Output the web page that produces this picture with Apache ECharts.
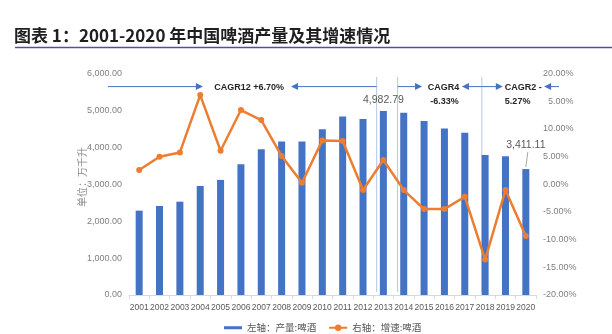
<!DOCTYPE html>
<html>
<head>
<meta charset="utf-8">
<script src="https://cdn.jsdelivr.net/npm/echarts@6/dist/echarts.min.js"></script>
<style>
  html, body { margin: 0; padding: 0; background: #fff; }
  #chart { width: 612px; height: 334px; }
</style>
</head>
<body>
<div id="chart"></div>
<script>
// 2001-2020 China beer output (万千升) and year-on-year growth (%)
const years = ['2001','2002','2003','2004','2005','2006','2007','2008','2009','2010',
               '2011','2012','2013','2014','2015','2016','2017','2018','2019','2020'];
const output = [2285, 2412, 2528, 2954, 3117, 3542, 3948, 4155, 4155, 4490,
                4832, 4770, 4982.79, 4940, 4715, 4507, 4398, 3794, 3759, 3411.11];
const growth = [2.56, 4.96, 5.75, 16.1, 6.05, 13.4, 11.6, 5.09, 0.27, 7.92,
                7.8, -1.05, 4.37, -1.05, -4.48, -4.48, -2.25, -13.6, -1.05, -9.35];
const labelledYears = ['2013', '2020'];

const leftTicks = { min: 0, max: 6000, interval: 1000 };
const rightTicks = { min: -20, max: 20, interval: 5 };

const seriesNames = ['左轴：产量:啤酒', '右轴：增速:啤酒'];
const axisFont = '"Liberation Sans", Arial, sans-serif';
const cjkFont = '"Noto Sans CJK SC", sans-serif';

const chart = echarts.init(document.getElementById('chart'), null, { renderer: 'canvas' });

function fmtThousands(v) {
  return v.toLocaleString('en-US', { minimumFractionDigits: 2, maximumFractionDigits: 2 });
}

chart.setOption({
  animation: false,
  backgroundColor: '#fff',
  title: {
    text: '图表 1：2001-2020 年中国啤酒产量及其增速情况',
    left: 14, top: 27, padding: 0,
    textStyle: { fontFamily: cjkFont, fontSize: 17, fontWeight: 'bold', color: '#1f1f1f' }
  },
  grid: { left: 129, right: 76, top: 73.5, bottom: 39 },
  legend: {
    left: 224, top: 323, padding: 0,
    itemWidth: 18, itemHeight: 8, itemGap: 12,
    textStyle: { fontFamily: cjkFont, fontSize: 9.5, color: '#555' },
    data: [
      { name: seriesNames[0], icon: 'path://M0,0 L0.01,0 Z M0,2.5 L19,2.5 L19,5.5 L0,5.5 Z M0,8 L0.01,8 Z' },
      { name: seriesNames[1] }
    ]
  },
  xAxis: {
    type: 'category',
    data: years,
    axisLine: { lineStyle: { color: '#d9d9d9', width: 1 } },
    axisTick: { show: true, alignWithLabel: false, length: 4, lineStyle: { color: '#d9d9d9' } },
    axisLabel: { interval: 0, margin: 8, fontFamily: axisFont, fontSize: 8.5, color: '#595959' }
  },
  yAxis: [
    {
      type: 'value',
      min: leftTicks.min, max: leftTicks.max, interval: leftTicks.interval,
      axisLine: { show: false }, axisTick: { show: false }, splitLine: { show: false },
      axisLabel: { margin: 7, fontFamily: axisFont, fontSize: 9, color: '#808080', formatter: fmtThousands }
    },
    {
      type: 'value',
      min: rightTicks.min, max: rightTicks.max, interval: rightTicks.interval,
      position: 'right',
      axisLine: { show: false }, axisTick: { show: false }, splitLine: { show: false },
      axisLabel: { margin: 7, fontFamily: axisFont, fontSize: 9, color: '#808080',
                   formatter: v => v.toFixed(2) + '%' }
    }
  ],
  series: [
    {
      name: seriesNames[0],
      type: 'bar',
      yAxisIndex: 0,
      barWidth: 7,
      itemStyle: { color: '#4472c4' },
      z: 2,
      data: output.map((v, i) => {
        const item = { value: v };
        if (labelledYears.includes(years[i])) {
          item.label = {
            show: true, position: 'top',
            distance: years[i] === '2020' ? 18 : 5,
            fontFamily: axisFont, fontSize: 10.5, color: '#595959',
            formatter: p => fmtThousands(p.value)
          };
        }
        return item;
      })
    },
    {
      name: seriesNames[1],
      type: 'line',
      yAxisIndex: 1,
      symbol: 'circle', symbolSize: 6,
      lineStyle: { color: '#ed7d31', width: 2.5 },
      itemStyle: { color: '#ed7d31' },
      z: 4,
      data: growth
    }
  ]
});

// CAGR period annotations, placed in category-index / left-axis units
function px(idx, val) {
  const c0 = chart.convertToPixel({ xAxisIndex: 0 }, years[0]);
  const c1 = chart.convertToPixel({ xAxisIndex: 0 }, years[1]);
  const y = chart.convertToPixel({ yAxisIndex: 0 }, val);
  return [c0 + idx * (c1 - c0), y];
}

const arrowY = 5645;
const arrowColor = '#4472c4';
const dividerColor = '#b4c7e7';
const noteFont = 'bold 9px ' + axisFont;
const g = [];

function arrow(fromIdx, toIdx) {
  // shaft from fromIdx, arrowhead at toIdx
  const a = px(fromIdx, arrowY), b = px(toIdx, arrowY);
  const dir = b[0] > a[0] ? 1 : -1;
  g.push({ type: 'line', zlevel: 1, z: 10, shape: { x1: a[0], y1: a[1], x2: b[0] - dir * 5, y2: b[1] },
           style: { stroke: arrowColor, lineWidth: 1 } });
  g.push({ type: 'polygon', zlevel: 1, z: 10,
           shape: { points: [[b[0], b[1]], [b[0] - dir * 7, b[1] - 3.5], [b[0] - dir * 7, b[1] + 3.5]] },
           style: { fill: arrowColor } });
}
function divider(idx) {
  const a = px(idx, 5908), b = px(idx, 81);
  g.push({ type: 'line', z: 1, shape: { x1: a[0], y1: a[1], x2: b[0], y2: b[1] },
           style: { stroke: dividerColor, lineWidth: 1 } });
}
function note(idx, val, text, align) {
  const p = px(idx, val);
  g.push({ type: 'text', zlevel: 1, z: 11, x: p[0], y: p[1],
           style: { text, align: align || 'center', verticalAlign: 'middle',
                    font: noteFont, fill: '#262626' } });
}

divider(11.67); divider(12.70); divider(16.84);

// white box of the CAGR2 note, which sits over the right axis edge
(function () {
  const a = px(17.85, 5920), b = px(20.12, 5060);
  g.push({ type: 'rect', zlevel: 1, z: 5, shape: { x: a[0], y: a[1], width: b[0] - a[0], height: b[1] - a[1] },
           style: { fill: '#fff' } });
})();

arrow(-1.53, 3.13); arrow(11.67, 7.46);
arrow(12.70, 13.90); arrow(16.84, 15.86);
arrow(16.84, 17.87); arrow(20.63, 19.90);

note(5.40, 5620, 'CAGR12 +6.70%');
note(14.95, 5620, 'CAGR4');
note(15.0, 5230, '-6.33%');
note(17.97, 5620, 'CAGR2 -', 'left');
note(17.97, 5230, '5.27%', 'left');

// leader line from the 2020 value label to its bar
(function () {
  const top = px(19.0, output[19]);
  const p1 = [top[0] + 2, top[1] - 17], p2 = [top[0], top[1] - 2];
  g.push({ type: 'line', z: 5, shape: { x1: p1[0], y1: p1[1], x2: p2[0], y2: p2[1] },
           style: { stroke: '#a6a6a6', lineWidth: 1 } });
})();

// vertical unit caption beside the left axis
g.push({ type: 'text', x: 82, y: 177, rotation: Math.PI / 2,
         style: { text: '单位：万千升', align: 'center', verticalAlign: 'middle',
                  font: '10px ' + cjkFont, fill: '#8c8c8c' } });

// rule under the heading
g.push({ type: 'line', z: 10, shape: { x1: 15, y1: 47.5, x2: 612, y2: 47.5 },
         style: { stroke: '#4f4fa8', lineWidth: 1.5 } });

chart.setOption({ graphic: g });
</script>
</body>
</html>
